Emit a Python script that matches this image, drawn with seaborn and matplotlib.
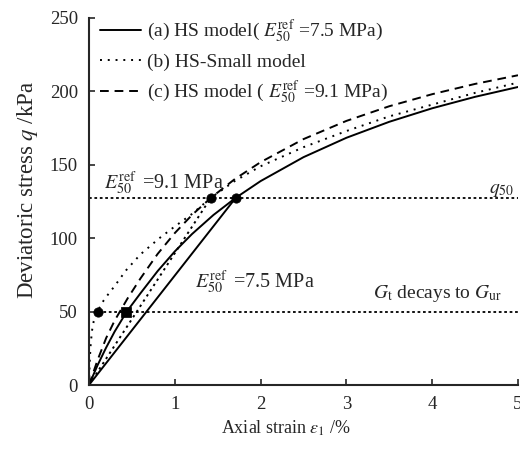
import matplotlib
matplotlib.use("Agg")
import matplotlib.pyplot as plt
import seaborn as sns

# ---- data ----
eps_a = [0, 0.1, 0.2, 0.3, 0.44, 0.6, 0.8, 1.0, 1.2, 1.45, 1.71, 2.0, 2.5, 3.0, 3.5, 4.0, 4.5, 5.0]
q_a   = [0, 13.5, 25.5, 36.5, 50, 62.5, 77.6, 91.0, 102.8, 115.8, 127.5, 138.9, 155.2, 168.4, 179.3, 188.5, 196.3, 203]

eps_b = [0, 0.004, 0.01, 0.02, 0.035, 0.055, 0.08, 0.1, 0.13, 0.17, 0.22, 0.3, 0.43, 0.6, 0.82, 1.0, 1.2, 1.42,
         1.7, 2.0, 2.5, 3.0, 3.5, 4.0, 4.5, 5.0]
q_b   = [0, 8, 18, 28, 37, 43.5, 47.8, 50, 53.5, 57.5, 61.5, 67.5, 78, 89, 100, 108, 116.5, 127.5,
         139, 149, 162, 173, 183, 191, 199, 206]

eps_c = [0, 0.1, 0.2, 0.3, 0.45, 0.6, 0.8, 1.0, 1.2, 1.42, 1.7, 2.0, 2.5, 3.0, 3.5, 4.0, 4.5, 5.0]
q_c   = [0, 17, 32, 44, 59, 72.6, 89.3, 103.5, 115.8, 127.5, 140.3, 151.8, 167.5, 179.9, 189.9, 198.1, 205.1, 211]

sec_75_eps = [0, 1.71]
sec_75_q   = [0, 127.5]
sec_91_eps = [0, 1.42]
sec_91_q   = [0, 127.5]

q50 = 127.5
q_decay = 50
circle_eps = [0.1, 1.42, 1.71]
circle_q   = [50, 127.5, 127.5]
square_eps = [0.43]
square_q   = [50]

x_ticks = [0, 1, 2, 3, 4, 5]
y_ticks = [0, 50, 100, 150, 200, 250]

labels = [r'(a) HS model( $E_{50}^{\rm ref}$ =7.5 MPa)',
          r'(b) HS-Small model',
          r'(c) HS model ( $E_{50}^{\rm ref}$ =9.1 MPa)']

# ---- style ----
sns.set_style("ticks")
plt.rcParams['font.family'] = ['Liberation Serif', 'DejaVu Serif']
plt.rcParams['mathtext.fontset'] = 'stix'
plt.rcParams['xtick.direction'] = 'in'
plt.rcParams['ytick.direction'] = 'in'

fig = plt.figure(figsize=(5.2, 4.51), dpi=100)
ax = fig.add_axes([89/520, 1-385/451, (518-89)/520, (385-18)/451])

k = 'black'
sns.lineplot(x=eps_a, y=q_a, ax=ax, color=k, lw=1.4, linestyle='-', sort=False,
             estimator=None, label=labels[0])
sns.lineplot(x=eps_b, y=q_b, ax=ax, color=k, lw=1.4, linestyle=(0, (1, 3)), sort=False,
             estimator=None, label=labels[1])
sns.lineplot(x=eps_c, y=q_c, ax=ax, color=k, lw=1.4, linestyle=(0, (4.5, 3)), sort=False,
             estimator=None, label=labels[2])

# secant lines
sns.lineplot(x=sec_75_eps, y=sec_75_q, ax=ax, color=k, lw=1.4, linestyle='-', sort=False,
             estimator=None, legend=False)
sns.lineplot(x=sec_91_eps, y=sec_91_q, ax=ax, color=k, lw=1.4, linestyle=(0, (1.2, 2)), sort=False,
             estimator=None, legend=False)

# horizontal reference lines
ax.axhline(q50, color=k, lw=1.3, linestyle=(0, (1.5, 1.5)))
ax.axhline(q_decay, color=k, lw=1.3, linestyle=(0, (1.5, 1.5)), xmin=0.02)

# markers
sns.scatterplot(x=circle_eps, y=circle_q, ax=ax, color=k, s=45, marker='o',
                edgecolor=k, zorder=5, legend=False)
sns.scatterplot(x=square_eps, y=square_q, ax=ax, color=k, s=45, marker='s',
                edgecolor=k, zorder=5, legend=False)

# annotations
ax.text(0.18, 134, r'$E_{50}^{\rm ref}\,$ =9.1 MPa', fontsize=14.5, ha='left', va='baseline')
ax.text(1.24, 66, r'$E_{50}^{\rm ref}\,$ =7.5 MPa', fontsize=14.5, ha='left', va='baseline')
ax.text(4.66, 131, r'$q_{50}$', fontsize=14, ha='left', va='baseline')
ax.text(3.31, 59, r'$G_{\rm t}$ decays to $G_{\rm ur}$', fontsize=14, ha='left', va='baseline')

ax.set_xlim(0, 5)
ax.set_ylim(0, 250)
ax.set_xticks(x_ticks)
ax.set_yticks(y_ticks)
ax.tick_params(labelsize=13.5, length=4, width=1.2, pad=8)
for s in ['left', 'bottom']:
    ax.spines[s].set_linewidth(1.5)
sns.despine(ax=ax)

ax.set_xlabel(r'Axial strain $\varepsilon_{\rm 1}$ /%', fontsize=13, va='top')
ax.xaxis.set_label_coords((286-89)/429, (385-419)/367)
ax.set_ylabel(r'Deviatoric stress $q$ /kPa', fontsize=16.5)
ax.yaxis.set_label_coords((40-89)/429, (385-190)/367)

leg = ax.legend(loc='upper left', frameon=False, fontsize=14, handlelength=2.1,
                handletextpad=0.3, labelspacing=0.4, borderpad=0, borderaxespad=0,
                bbox_to_anchor=(0.026, 1.0))

fig.savefig('out.png', dpi=100)
